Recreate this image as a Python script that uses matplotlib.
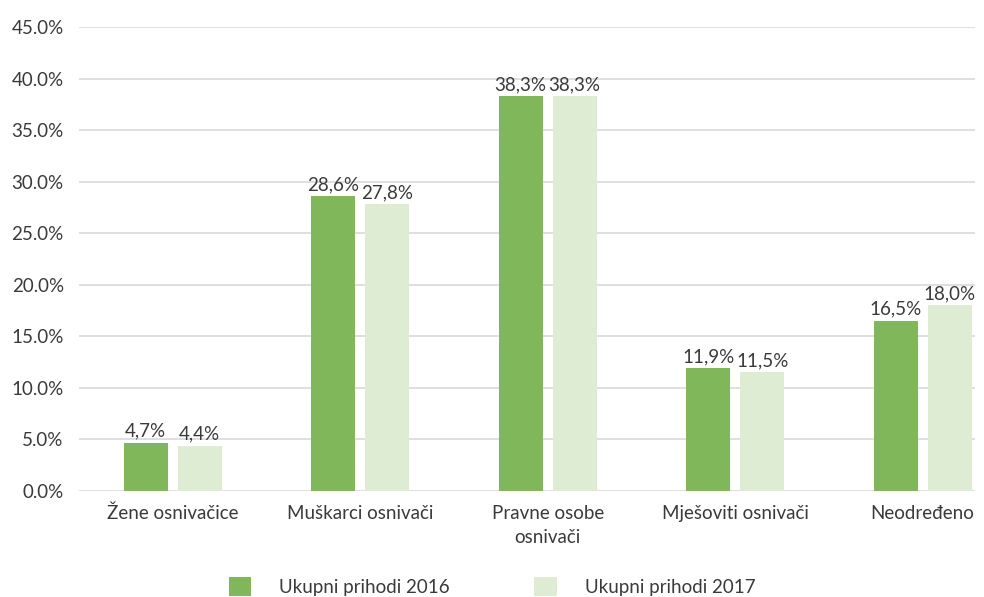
import matplotlib.pyplot as plt
import numpy as np

# Data
categories = ['Žene osnivačice', 'Muškarci osnivači', 'Pravne osobe\nosnivači',
              'Mješoviti osnivači', 'Neodređeno']
prihodi_2016 = [4.7, 28.6, 38.3, 11.9, 16.5]
prihodi_2017 = [4.4, 27.8, 38.3, 11.5, 18.0]
series_names = ['Ukupni prihodi 2016', 'Ukupni prihodi 2017']

plt.rcParams['font.family'] = ['Lato', 'DejaVu Sans']
text_col = '#3a3a3a'
fs = 13.5

fig = plt.figure(figsize=(9.84, 5.97), dpi=100)
ax = fig.add_axes([0.0803, 0.1776, 0.9107, 0.7772])

x = np.arange(len(categories))
w = 0.235
off = 0.144
b1 = ax.bar(x - off, prihodi_2016, w, color='#80b75a', label=series_names[0], zorder=3)
b2 = ax.bar(x + off, prihodi_2017, w, color='#deecd4', label=series_names[1], zorder=3)

for bars, vals in [(b1, prihodi_2016), (b2, prihodi_2017)]:
    for b, v in zip(bars, vals):
        ax.text(b.get_x() + b.get_width() / 2, v + 0.3, f'{v:.1f}%'.replace('.', ','),
                ha='center', va='bottom', fontsize=fs, color=text_col)

ax.set_ylim(0, 45)
ax.set_xlim(-0.5, 4.28)
ax.set_yticks(np.arange(0, 46, 5))
ax.set_yticklabels([f'{t:.1f}%' for t in np.arange(0, 46, 5)])
ax.set_xticks(x)
ax.set_xticklabels(categories, linespacing=1.5)
ax.tick_params(axis='both', length=0, labelsize=fs, labelcolor=text_col)
ax.tick_params(axis='x', pad=10)
ax.tick_params(axis='y', pad=11)
ax.grid(axis='y', color='#d9d9d9', linewidth=1.2, zorder=0)
for s in ax.spines.values():
    s.set_visible(False)

fig.legend(handles=[b1, b2], labels=series_names, loc='center',
           bbox_to_anchor=(0.50, 0.018), ncol=2, frameon=False,
           fontsize=fs, handlelength=1.2, handleheight=1.2,
           columnspacing=4.5, handletextpad=1.5, labelcolor=text_col)

fig.savefig('out.png', dpi=100)
